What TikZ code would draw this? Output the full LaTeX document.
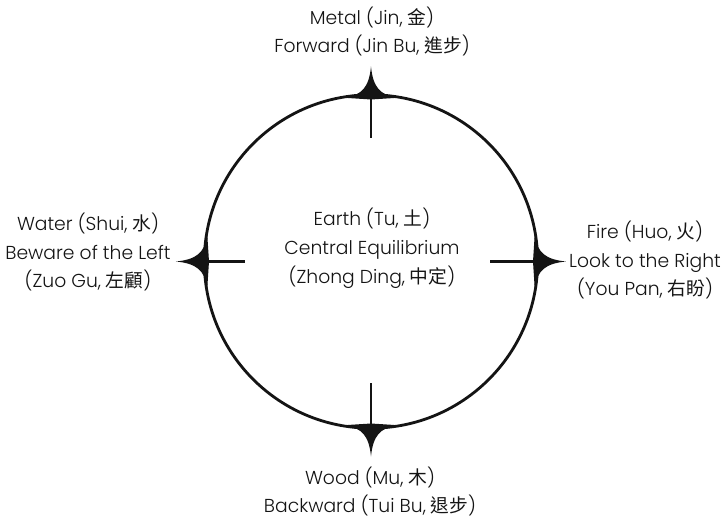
\documentclass[tikz,border=0pt]{standalone}
\usepackage{fontspec}
\setmainfont{Poppins}[UprightFont={* Light}]
\newfontfamily\cjk{Noto Sans CJK TC}
\usepackage{tikz}
\definecolor{inkline}{RGB}{20,20,20}
\newcommand{\hz}[1]{\hspace{0.25em}{\cjk #1}}

\begin{document}
\begin{tikzpicture}[
  every node/.style={font=\fontsize{16}{24.7}\selectfont, align=center, text=inkline},
  ring/.style={draw=inkline, line width=2.4pt},
  tick/.style={draw=inkline, line width=2.2pt}]
  \useasboundingbox (-11.13,-7.695) rectangle (10.65,7.845);
  % the ring
  \draw[ring] (0,0) circle (5.0);
  % spike and inward tick at each of the four points
  \foreach \ang/\len in {90/1.29, 180/1.23, 0/1.44, 270/1.35} {
    \begin{scope}[rotate=\ang-90]
      \fill[inkline] (-0.78,4.91) .. controls (-0.25,5.0) and (-0.06,5.25) .. (0,5.85)
        .. controls (0.06,5.25) and (0.25,5.0) .. (0.78,4.91) -- (0,4.86) -- cycle;
      \draw[tick] (0,5) -- (0,5-\len);
    \end{scope}
  }
  % labels
  \node (metal) at (0.03,6.9) {Metal (Jin,\hz{金})\\Forward (Jin Bu,\hz{進步})};
  \node (water) at (-8.49,0.285) {Water (Shui,\hz{水})\\Beware of the Left\\(Zuo Gu,\hz{左顧})};
  \node (fire) at (8.22,0.045) {Fire (Huo,\hz{火})\\Look to the Right\\(You Pan,\hz{右盼})};
  \node (earth) at (0.03,0.405) {Earth (Tu,\hz{土})\\Central Equilibrium\\(Zhong Ding,\hz{中定})};
  \node (wood) at (-0.03,-6.9) {Wood (Mu,\hz{木})\\Backward (Tui Bu,\hz{退步})};
\end{tikzpicture}
\end{document}
